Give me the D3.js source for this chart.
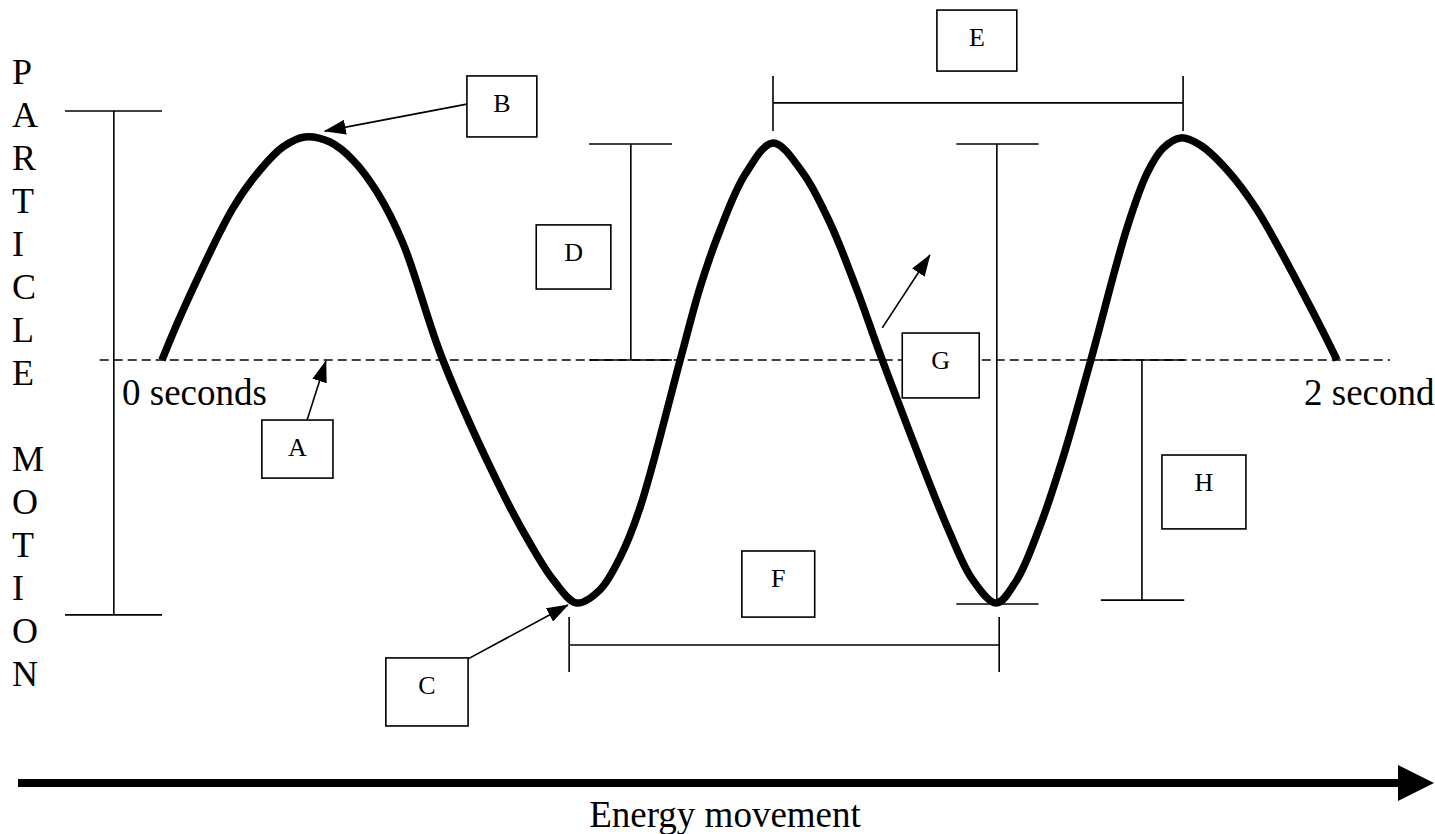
<!DOCTYPE html>
<html>
<head>
<meta charset="utf-8">
<script src="https://cdn.jsdelivr.net/npm/d3@7/dist/d3.min.js"></script>
<style>
  body { margin: 0; background: #fff; }
  svg text { font-family: "Liberation Serif", "Times New Roman", serif; fill: #000; }
</style>
</head>
<body>
<div id="wave-holder"></div>
<script>
      // DATA
      // wave samples: time in 1/100 s, displacement in % of amplitude
      var waveTime = [0, 3.6, 12.1, 16.7, 20.6, 24.3, 28.6, 32.5, 36.6, 41.0, 47.8,
        58.0, 62.6, 66.6, 70.6, 74.5, 78.0, 81.4, 88.2,
        91.6, 95.0, 99.2, 104.0, 109.1, 113.7, 118.3, 122.6,
        134.1, 138.0, 142.0, 145.5, 149.4, 153.4, 158.1,
        164.3, 167.7, 170.4, 173.4, 176.7, 181.3, 186.4, 196.6, 200];
      var waveDisp = [0, 20.6, 62.6, 78.2, 87.7, 91.8, 89.7, 82.3, 69.1, 48.1, 0,
        -54.7, -75.3, -90.5, -100, -94.7, -81.1, -60.5, 0,
        30.0, 53.5, 76.1, 89.3, 77.0, 56.4, 28.8, 0,
        -71.2, -90.5, -100, -90.5, -68.7, -39.9, 0,
        54.7, 77.0, 87.2, 91.4, 88.5, 78.2, 61.7, 16.5, 0];

      // time labels at the ends of the rest line
      var timeLabels = ["0 seconds", "2 second"];

      // vertical axis title, one letter per line
      var axisWords = ["PARTICLE", "MOTION"];

      // labelled boxes: time span and displacement span (top, bottom)
      var boxLabels = ["A", "B", "C", "D", "E", "F", "G", "H"];
      var boxT0 = [17.0, 51.9, 38.1, 63.7, 131.9, 98.7, 126.0, 170.2];
      var boxT1 = [29.1, 63.8, 52.1, 76.4, 145.5, 111.1, 139.1, 184.5];
      var boxD0 = [-24.7, 116.9, -122.6, 55.6, 144.0, -78.6, 11.1, -39.1];
      var boxD1 = [-48.6, 91.8, -150.6, 29.2, 118.9, -105.8, -15.6, -69.5];

      // pointer arrows: from box to feature
      var arrowFromT = [24.7, 51.9, 52.1, 122.6];
      var arrowFromD = [-24.7, 105.3, -123.0, 13.2];
      var arrowToT = [27.9, 27.7, 69.1, 130.7];
      var arrowToD = [-0.4, 94.2, -100.8, 43.2];

      // vertical measuring bars: time, top, bottom, cap start, cap end
      var vbarT = [-8.2, 79.8, 142.1, 166.8];
      var vbarTop = [102.5, 88.9, 88.9, 0];
      var vbarBottom = [-104.9, 0, -100.4, -98.8];
      var vbarCap0 = [-16.5, 72.7, 135.2, 159.8];
      var vbarCap1 = [0, 86.8, 149.2, 174.0];

      // horizontal measuring bars (wavelength): level, start, end, tick top, tick bottom
      var hbarD = [105.8, -117.3];
      var hbarT0 = [104.0, 69.3];
      var hbarT1 = [173.8, 142.5];
      var hbarTickTop = [116.9, -105.8];
      var hbarTickBottom = [94.2, -128.4];

      // DEFINE FUNCTIONS/OBJECTS
      var width = 1435, height = 834;

      var x = d3
        .scaleLinear()
        .domain([0, 200])
        .range([162, 1337])
      ;

      var y = d3
        .scaleLinear()
        .domain([-100, 100])
        .range([603, 117])
      ;

      var svg = d3
        .select("#wave-holder")
        .append("svg")
        .attr("width", width)
        .attr("height", height)
        .attr("viewBox", "0, 0, " + width + ", " + height)
      ;

      // arrowhead for the pointers
      svg.append("defs")
        .append("marker")
        .attr("id", "tip")
        .attr("markerUnits", "userSpaceOnUse")
        .attr("markerWidth", 22)
        .attr("markerHeight", 15)
        .attr("refX", 21)
        .attr("refY", 7.5)
        .attr("orient", "auto")
        .append("path")
        .attr("d", "M0,0 L22,7.5 L0,15 Z")
        .attr("fill", "#000")
      ;

      // rest position (dashed)
      svg.append("line")
        .attr("x1", x(-10.6))
        .attr("x2", x(209))
        .attr("y1", y(0))
        .attr("y2", y(0))
        .attr("stroke", "#000")
        .attr("stroke-width", 1.4)
        .attr("stroke-dasharray", "9,5")
      ;

      // vertical bars with caps
      var vbars = svg.append("g")
        .attr("stroke", "#000")
        .attr("stroke-width", 1.6)
        .selectAll("g")
        .data(vbarT.map(function(t, i) { return i; }))
        .enter()
        .append("g")
      ;
      vbars.append("line")
        .attr("x1", function(i) { return x(vbarT[i]); })
        .attr("x2", function(i) { return x(vbarT[i]); })
        .attr("y1", function(i) { return y(vbarTop[i]); })
        .attr("y2", function(i) { return y(vbarBottom[i]); })
      ;
      vbars.append("line")
        .attr("x1", function(i) { return x(vbarCap0[i]); })
        .attr("x2", function(i) { return x(vbarCap1[i]); })
        .attr("y1", function(i) { return y(vbarTop[i]); })
        .attr("y2", function(i) { return y(vbarTop[i]); })
      ;
      vbars.append("line")
        .attr("x1", function(i) { return x(vbarCap0[i]); })
        .attr("x2", function(i) { return x(vbarCap1[i]); })
        .attr("y1", function(i) { return y(vbarBottom[i]); })
        .attr("y2", function(i) { return y(vbarBottom[i]); })
      ;

      // horizontal bars with end ticks
      var hbars = svg.append("g")
        .attr("stroke", "#000")
        .attr("stroke-width", 1.6)
        .selectAll("g")
        .data(hbarD.map(function(d, i) { return i; }))
        .enter()
        .append("g")
      ;
      hbars.append("line")
        .attr("x1", function(i) { return x(hbarT0[i]); })
        .attr("x2", function(i) { return x(hbarT1[i]); })
        .attr("y1", function(i) { return y(hbarD[i]); })
        .attr("y2", function(i) { return y(hbarD[i]); })
      ;
      hbars.append("line")
        .attr("x1", function(i) { return x(hbarT0[i]); })
        .attr("x2", function(i) { return x(hbarT0[i]); })
        .attr("y1", function(i) { return y(hbarTickTop[i]); })
        .attr("y2", function(i) { return y(hbarTickBottom[i]); })
      ;
      hbars.append("line")
        .attr("x1", function(i) { return x(hbarT1[i]); })
        .attr("x2", function(i) { return x(hbarT1[i]); })
        .attr("y1", function(i) { return y(hbarTickTop[i]); })
        .attr("y2", function(i) { return y(hbarTickBottom[i]); })
      ;

      // the wave itself
      var wave = d3
        .line()
        .x(function(i) { return x(waveTime[i]); })
        .y(function(i) { return y(waveDisp[i]); })
        .curve(d3.curveCatmullRom.alpha(0.5))
      ;
      svg.append("path")
        .attr("d", wave(waveTime.map(function(t, i) { return i; })))
        .attr("fill", "none")
        .attr("stroke", "#000")
        .attr("stroke-width", 7.5)
      ;

      // pointer arrows
      svg.append("g")
        .selectAll("line")
        .data(arrowFromT.map(function(t, i) { return i; }))
        .enter()
        .append("line")
        .attr("x1", function(i) { return x(arrowFromT[i]); })
        .attr("y1", function(i) { return y(arrowFromD[i]); })
        .attr("x2", function(i) { return x(arrowToT[i]); })
        .attr("y2", function(i) { return y(arrowToD[i]); })
        .attr("stroke", "#000")
        .attr("stroke-width", 1.6)
        .attr("marker-end", "url(#tip)")
      ;

      // letter boxes
      var boxes = svg.append("g")
        .selectAll("g")
        .data(boxLabels)
        .enter()
        .append("g")
      ;
      boxes.append("rect")
        .attr("x", function(d, i) { return x(boxT0[i]); })
        .attr("y", function(d, i) { return y(boxD0[i]); })
        .attr("width", function(d, i) { return x(boxT1[i]) - x(boxT0[i]); })
        .attr("height", function(d, i) { return y(boxD1[i]) - y(boxD0[i]); })
        .attr("fill", "#fff")
        .attr("stroke", "#000")
        .attr("stroke-width", 1.6)
      ;
      boxes.append("text")
        .attr("x", function(d, i) { return (x(boxT0[i]) + x(boxT1[i])) / 2; })
        .attr("y", function(d, i) { return y(boxD0[i]) + 36; })
        .attr("text-anchor", "middle")
        .attr("font-size", 26)
        .text(function(d) { return d; })
      ;

      // time labels
      svg.append("text")
        .attr("x", x(0) - 40)
        .attr("y", y(0) + 45)
        .attr("font-size", 37)
        .text(timeLabels[0])
      ;
      svg.append("text")
        .attr("x", x(200) - 33)
        .attr("y", y(0) + 45)
        .attr("font-size", 37)
        .text(timeLabels[1])
      ;

      // stacked letters of the vertical title
      var letters = [];
      axisWords.forEach(function(w, k) {
        w.split("").forEach(function(c, j) {
          letters.push({ c: c, row: j + k * 9 });
        });
      });
      svg.append("g")
        .selectAll("text")
        .data(letters)
        .enter()
        .append("text")
        .attr("x", 12)
        .attr("y", function(d) { return 84 + d.row * 43; })
        .attr("font-size", 36)
        .text(function(d) { return d.c; })
      ;

      // energy arrow along the bottom
      svg.append("line")
        .attr("x1", 18)
        .attr("x2", 1400)
        .attr("y1", 783)
        .attr("y2", 783)
        .attr("stroke", "#000")
        .attr("stroke-width", 8)
      ;
      svg.append("path")
        .attr("d", "M1398,765 L1434,783 L1398,801 Z")
        .attr("fill", "#000")
      ;
      svg.append("text")
        .attr("x", 725)
        .attr("y", 827)
        .attr("text-anchor", "middle")
        .attr("font-size", 37)
        .text("Energy movement")
      ;
</script>
</body>
</html>
